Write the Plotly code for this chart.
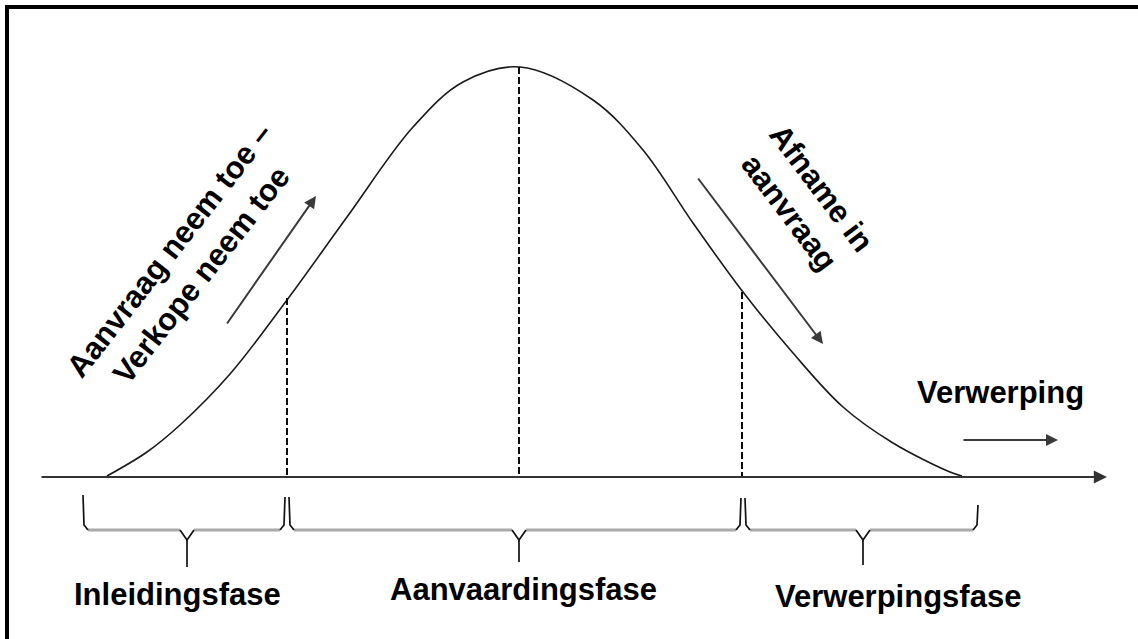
import plotly.graph_objects as go

# ---- data (pixel-space diagram coordinates) ----
curve_x = [107, 147, 180, 230, 287, 347, 413, 463, 520, 593, 643, 693, 743, 793, 843, 893, 950, 962]
curve_y = [476, 452, 425, 374, 300, 217, 127, 82, 67, 100, 150, 223, 292, 353, 407, 443, 472, 476]

divider_x = [287, 519, 742]
divider_top = [298, 67, 292]
axis_y = 477
axis_start = 40
axis_end = 1107

# braces: left x, right x, centre x, left tip y, right tip y, stem bottom y
brace_left = [83, 289, 745]
brace_right = [285, 741, 978]
brace_center = [187, 519, 863]
brace_ltop = [495, 497, 498]
brace_rtop = [497, 498, 505]
brace_stem = [567, 562, 565]
brace_line_y = 530

phase_labels = ["Inleidingsfase", "Aanvaardingsfase", "Verwerpingsfase"]
phase_label_x = [177, 523, 898]
phase_label_y = [594, 589, 596]

fig = go.Figure()

# bell curve
fig.add_trace(go.Scatter(x=curve_x, y=curve_y, mode="lines",
                         line=dict(color="#1a1a1a", width=1.6, shape="spline", smoothing=1.0),
                         hoverinfo="skip"))

# dashed dividers
for dx, dt in zip(divider_x, divider_top):
    fig.add_trace(go.Scatter(x=[dx, dx], y=[dt, axis_y], mode="lines",
                             line=dict(color="black", width=1.9, dash="7px,3px"),
                             hoverinfo="skip"))

# braces
for L, R, C, lt, rt, S in zip(brace_left, brace_right, brace_center, brace_ltop, brace_rtop, brace_stem):
    H = brace_line_y
    # horizontal grey parts
    fig.add_trace(go.Scatter(x=[L + 5, C - 7, None, C + 7, R - 5], y=[H, H, None, H, H], mode="lines",
                             line=dict(color="#aaaaaa", width=3), hoverinfo="skip"))
    # black ends and central V with stem
    fig.add_trace(go.Scatter(
        x=[L, L + 1, L + 5, None, R, R - 1, R - 5, None, C - 7, C, C + 7, None, C, C],
        y=[lt, H - 5, H, None, rt, H - 5, H, None, H, H + 10, H, None, H + 10, S],
        mode="lines", line=dict(color="#111111", width=1.7), hoverinfo="skip"))

fig.update_layout(
    width=1138, height=639,
    margin=dict(l=0, r=0, t=0, b=0),
    paper_bgcolor="white", plot_bgcolor="white",
    showlegend=False,
    xaxis=dict(range=[0, 1138], visible=False, fixedrange=True),
    yaxis=dict(range=[639, 0], visible=False, fixedrange=True),
)

# frame (top & left)
fig.add_shape(type="line", x0=5, x1=1138, y0=7, y1=7, line=dict(color="black", width=4))
fig.add_shape(type="line", x0=7, x1=7, y0=5, y1=639, line=dict(color="black", width=4))

# axis with arrow
fig.add_annotation(x=axis_end, y=axis_y, ax=axis_start, ay=axis_y, axref="x", ayref="y",
                   xref="x", yref="y", text="", showarrow=True, arrowhead=2, arrowsize=1.2,
                   arrowwidth=2.2, arrowcolor="#333333")

# direction arrows
arrows = [((226, 325), (316, 196)), ((697, 177), (823, 344)), ((962, 440), (1058, 440))]
for (tx, ty), (hx, hy) in arrows:
    fig.add_annotation(x=hx, y=hy, ax=tx, ay=ty, axref="x", ayref="y", xref="x", yref="y",
                       text="", showarrow=True, arrowhead=2, arrowsize=1.2, arrowwidth=2,
                       arrowcolor="#3a3a3a")

font = dict(family="Liberation Sans, Arial, sans-serif", size=31, color="black")

for lab, lx, ly in zip(phase_labels, phase_label_x, phase_label_y):
    fig.add_annotation(x=lx, y=ly, xref="x", yref="y", text="<b>" + lab + "</b>", showarrow=False,
                       font=font, xanchor="center", yanchor="middle")

fig.add_annotation(x=1000, y=392, xref="x", yref="y", text="<b>Verwerping</b>", showarrow=False,
                   font=font, xanchor="center", yanchor="middle")

fig.add_annotation(x=185, y=262, xref="x", yref="y",
                   text="<b>Aanvraag neem toe –</b><br><b>Verkope neem toe</b>", showarrow=False,
                   font=font, textangle=-52, xanchor="center", yanchor="middle")

fig.add_annotation(x=806, y=200, xref="x", yref="y",
                   text="<b>Afname in</b><br><b>aanvraag</b>", showarrow=False,
                   font=font, textangle=53, xanchor="center", yanchor="middle")

fig.write_html("out.html", config={"displayModeBar": False, "staticPlot": True},
               post_script="document.body.style.margin='0';document.body.style.overflow='hidden';")
